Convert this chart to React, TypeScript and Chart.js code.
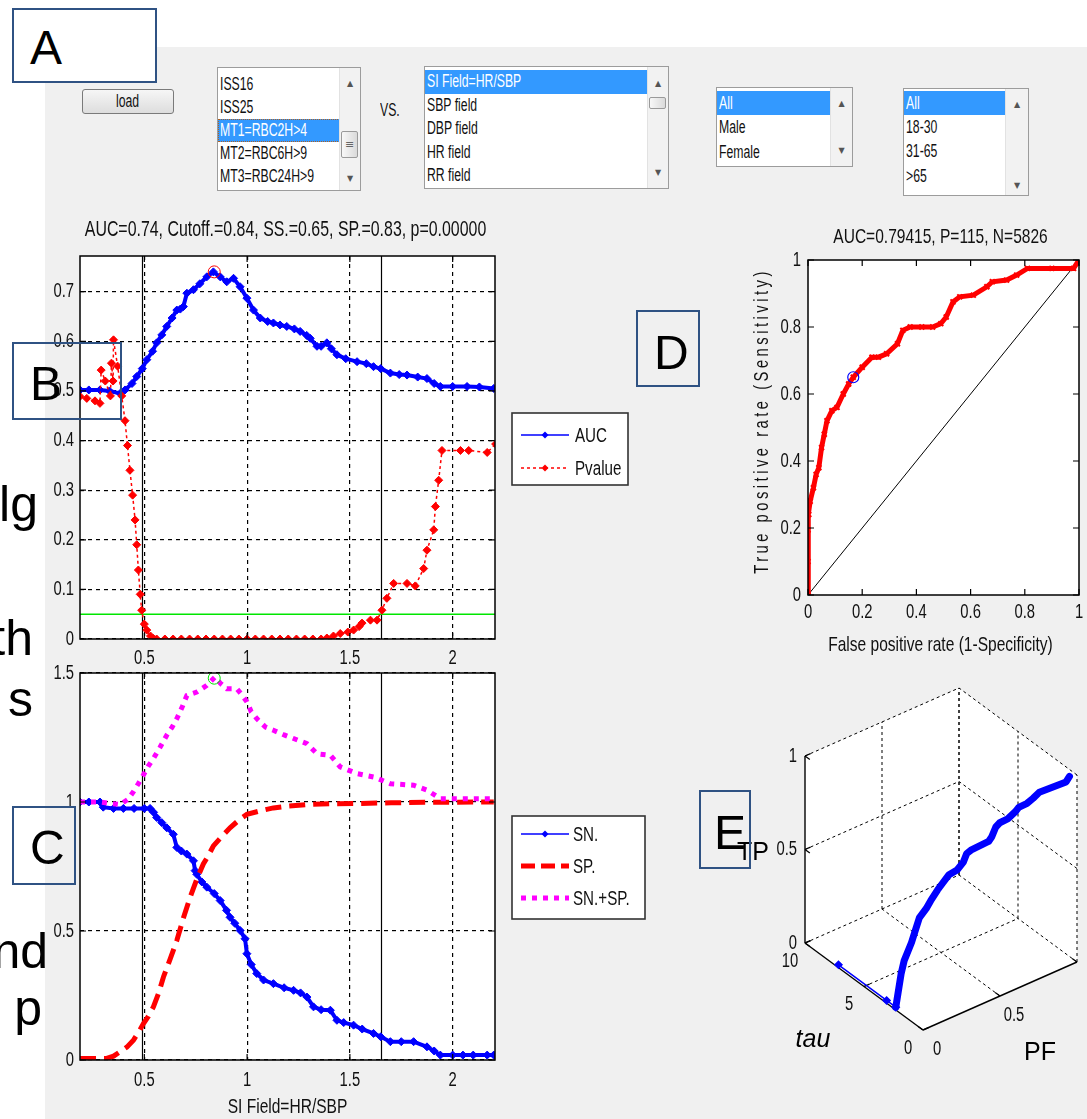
import React, { useEffect, useRef } from 'react';
import { Chart, registerables } from 'chart.js';

Chart.register(...registerables);

const SANS = '"Liberation Sans", Arial, Helvetica, sans-serif';
const SX = 0.74; // horizontal squeeze that imitates the condensed MATLAB/Helvetica look

/* ------------------------------ data ------------------------------ */
// panel A: selection lists
const OUTCOMES = ['ISS16', 'ISS25', 'MT1=RBC2H>4', 'MT2=RBC6H>9', 'MT3=RBC24H>9'];
const PREDICTORS = ['SI Field=HR/SBP', 'SBP field', 'DBP field', 'HR field', 'RR field'];
const SEXES = ['All', 'Male', 'Female'];
const AGES = ['All', '18-30', '31-65', '>65'];

// panel B: AUC and p-value versus cut-off
const B_TITLE = 'AUC=0.74, Cutoff.=0.84, SS.=0.65, SP.=0.83, p=0.00000';
const SI_TICKS = [0.5, 1, 1.5, 2];
const SI_RANGE = [0.187, 2.206];
const B_Y_TICKS = [0, 0.1, 0.2, 0.3, 0.4, 0.5, 0.6, 0.7];
const B_Y_RANGE = [0, 0.772];
const AUC_X = [0.187, 0.23, 0.284, 0.33, 0.382, 0.406, 0.44, 0.463, 0.49, 0.512, 0.54, 0.56, 0.585, 0.609, 0.635, 0.658, 0.675, 0.69, 0.707, 0.739, 0.77, 0.804, 0.836, 0.869, 0.901, 0.934, 0.966, 0.999, 1.031, 1.064, 1.1, 1.128, 1.16, 1.193, 1.23, 1.258, 1.29, 1.307, 1.34, 1.36, 1.388, 1.41, 1.437, 1.48, 1.535, 1.58, 1.615, 1.65, 1.697, 1.74, 1.778, 1.83, 1.875, 1.91, 1.94, 2.0, 2.07, 2.13, 2.2];
const AUC_Y = [0.502, 0.502, 0.502, 0.5, 0.495, 0.502, 0.515, 0.529, 0.545, 0.563, 0.58, 0.597, 0.613, 0.63, 0.647, 0.663, 0.665, 0.67, 0.697, 0.704, 0.716, 0.73, 0.74, 0.73, 0.72, 0.727, 0.71, 0.687, 0.663, 0.647, 0.64, 0.637, 0.633, 0.63, 0.625, 0.62, 0.612, 0.606, 0.59, 0.59, 0.597, 0.585, 0.573, 0.565, 0.559, 0.555, 0.549, 0.545, 0.536, 0.533, 0.532, 0.528, 0.525, 0.515, 0.509, 0.509, 0.509, 0.508, 0.505];
const PV_X = [0.187, 0.22, 0.26, 0.284, 0.29, 0.31, 0.335, 0.34, 0.348, 0.35, 0.37, 0.39, 0.406, 0.418, 0.43, 0.443, 0.455, 0.463, 0.471, 0.48, 0.487, 0.5, 0.512, 0.53, 0.544, 0.56, 0.6, 0.64, 0.68, 0.72, 0.76, 0.8, 0.84, 0.88, 0.92, 0.96, 1.0, 1.04, 1.08, 1.12, 1.16, 1.2, 1.24, 1.28, 1.32, 1.36, 1.388, 1.42, 1.453, 1.49, 1.518, 1.545, 1.559, 1.6, 1.632, 1.656, 1.68, 1.713, 1.778, 1.818, 1.859, 1.875, 1.908, 1.916, 1.932, 1.948, 2.038, 2.078, 2.168, 2.209];
const PV_Y = [0.489, 0.485, 0.48, 0.475, 0.542, 0.52, 0.49, 0.556, 0.52, 0.603, 0.55, 0.49, 0.44, 0.39, 0.34, 0.29, 0.24, 0.19, 0.139, 0.09, 0.058, 0.03, 0.018, 0.006, 0.001, 0, 0, 0, 0, 0, 0, 0, 0, 0, 0, 0, 0, 0, 0, 0, 0, 0, 0, 0, 0, 0, 0.002, 0.006, 0.011, 0.014, 0.018, 0.025, 0.032, 0.038, 0.038, 0.058, 0.082, 0.112, 0.112, 0.107, 0.142, 0.179, 0.22, 0.267, 0.32, 0.38, 0.38, 0.38, 0.376, 0.393];
const P_LEVEL = 0.05;
const CROSS_SI = [0.487, 1.65];
const BEST_SI = 0.84;
const BEST_AUC = 0.74;
const BEST_SUM = 1.48;

// panel C: sensitivity / specificity versus cut-off
const C_Y_TICKS = [0, 0.5, 1, 1.5];
const C_Y_RANGE = [0, 1.5];
const C_X_TITLE = 'SI Field=HR/SBP';
const SN_X = [0.187, 0.23, 0.284, 0.3, 0.35, 0.398, 0.45, 0.5, 0.528, 0.545, 0.56, 0.585, 0.609, 0.641, 0.658, 0.68, 0.707, 0.739, 0.747, 0.755, 0.78, 0.804, 0.84, 0.869, 0.9, 0.917, 0.94, 0.966, 0.99, 0.999, 1.02, 1.047, 1.08, 1.128, 1.18, 1.226, 1.26, 1.291, 1.323, 1.36, 1.405, 1.437, 1.47, 1.518, 1.56, 1.615, 1.65, 1.697, 1.75, 1.81, 1.875, 1.91, 1.94, 2.0, 2.05, 2.1, 2.168, 2.2];
const SN_Y = [1, 1, 1, 0.98, 0.975, 0.975, 0.975, 0.975, 0.975, 0.96, 0.94, 0.92, 0.9, 0.875, 0.824, 0.81, 0.798, 0.772, 0.734, 0.72, 0.69, 0.67, 0.645, 0.618, 0.58, 0.553, 0.53, 0.502, 0.47, 0.412, 0.37, 0.335, 0.31, 0.296, 0.28, 0.27, 0.26, 0.244, 0.206, 0.195, 0.193, 0.154, 0.145, 0.135, 0.12, 0.103, 0.09, 0.071, 0.071, 0.071, 0.051, 0.035, 0.019, 0.019, 0.019, 0.019, 0.019, 0.019];
const SP_X = [0.187, 0.25, 0.317, 0.35, 0.382, 0.415, 0.447, 0.47, 0.495, 0.52, 0.544, 0.57, 0.593, 0.625, 0.658, 0.69, 0.723, 0.755, 0.787, 0.81, 0.836, 0.87, 0.917, 0.96, 0.999, 1.06, 1.128, 1.2, 1.291, 1.4, 1.535, 1.7, 1.9, 2.2];
const SP_Y = [0.006, 0.006, 0.006, 0.015, 0.032, 0.05, 0.077, 0.105, 0.14, 0.17, 0.206, 0.26, 0.322, 0.39, 0.463, 0.55, 0.631, 0.7, 0.76, 0.79, 0.83, 0.86, 0.9, 0.93, 0.952, 0.965, 0.977, 0.984, 0.99, 0.993, 0.994, 0.997, 0.999, 1.0];
const SUM_X = [0.187, 0.284, 0.382, 0.42, 0.447, 0.47, 0.495, 0.52, 0.544, 0.575, 0.609, 0.635, 0.658, 0.685, 0.707, 0.755, 0.804, 0.844, 0.87, 0.901, 0.95, 0.975, 0.999, 1.02, 1.047, 1.09, 1.128, 1.18, 1.226, 1.291, 1.34, 1.405, 1.453, 1.535, 1.615, 1.697, 1.81, 1.875, 1.94, 2.05, 2.2];
const SUM_Y = [1, 1, 0.99, 1.01, 1.04, 1.07, 1.104, 1.14, 1.168, 1.21, 1.259, 1.29, 1.323, 1.37, 1.413, 1.426, 1.452, 1.484, 1.46, 1.439, 1.439, 1.415, 1.388, 1.35, 1.323, 1.29, 1.278, 1.26, 1.246, 1.226, 1.187, 1.181, 1.136, 1.11, 1.097, 1.071, 1.065, 1.046, 1.013, 1.013, 1.013];

// panel D: ROC curve
const D_TITLE = 'AUC=0.79415, P=115, N=5826';
const D_X_TITLE = 'False positive rate (1-Specificity)';
const D_Y_TITLE = 'True positive rate (Sensitivity)';
const RATE_TICKS = [0, 0.2, 0.4, 0.6, 0.8, 1];
const ROC_FPR = [0, 0, 0, 0.003, 0.008, 0.02, 0.03, 0.04, 0.05, 0.06, 0.07, 0.088, 0.107, 0.13, 0.15, 0.167, 0.2, 0.236, 0.26, 0.29, 0.33, 0.35, 0.377, 0.42, 0.46, 0.49, 0.51, 0.535, 0.56, 0.61, 0.66, 0.68, 0.733, 0.77, 0.81, 0.9, 0.98, 1.0];
const ROC_TPR = [0, 0.1, 0.194, 0.24, 0.28, 0.32, 0.36, 0.38, 0.44, 0.48, 0.52, 0.55, 0.56, 0.6, 0.63, 0.65, 0.68, 0.71, 0.71, 0.72, 0.75, 0.79, 0.8, 0.8, 0.8, 0.81, 0.83, 0.875, 0.89, 0.895, 0.92, 0.935, 0.94, 0.955, 0.975, 0.975, 0.975, 1.0];
const CHANCE = [0, 1];
const OPT_FPR = 0.167;
const OPT_TPR = 0.65;

// panel E: 3-D ROC (PF, tau, TP)
const E_PF_TICKS = [0, 0.5, 1];
const E_TAU_TICKS = [0, 5, 10];
const E_TP_TICKS = [0, 0.5, 1];
const E_PF_MAX = 1;
const E_TAU_MAX = 10;
const E_TP_MAX = 1;
const E_THIN_PF = [0, 0, 0];
const E_THIN_TAU = [7.3, 3.1, 2.3];
const E_THIN_TP = [0, 0, 0];
const E_PF = [0, 0.005, 0.01, 0.04, 0.05, 0.07, 0.107, 0.13, 0.167, 0.2, 0.236, 0.29, 0.33, 0.35, 0.377, 0.49, 0.51, 0.535, 0.56, 0.61, 0.66, 0.68, 0.733, 0.77, 0.81, 0.98, 1.0];
const E_TAU = [2.3, 1.9, 1.7, 1.45, 1.3, 1.15, 1.05, 0.95, 0.84, 0.8, 0.77, 0.74, 0.71, 0.69, 0.67, 0.6, 0.58, 0.56, 0.54, 0.5, 0.46, 0.45, 0.41, 0.38, 0.35, 0.24, 0.2];
const E_TP = [0, 0.2, 0.28, 0.38, 0.44, 0.52, 0.56, 0.6, 0.65, 0.68, 0.71, 0.72, 0.75, 0.79, 0.8, 0.81, 0.83, 0.875, 0.89, 0.895, 0.92, 0.935, 0.94, 0.955, 0.975, 0.975, 1.0];

/* ------------------------------ layout ------------------------------ */
const E_ORIGIN = [223, 350];
const E_PF_VEC = [154, -68];
const E_TAU_VEC = [-11.8, -8.7];
const E_TP_VEC = [0, -187];

const BLUE = '#0000ff';
const RED = '#ff0000';
const MAGENTA = '#ff00ff';
const GREEN = '#00e600';
const TICK_FONT = 20;

const pts = (xs: number[], ys: number[]) => xs.map((x, i) => ({ x, y: ys[i] }));

function axis(min: number, max: number, ticks: number[], w: number | null, h: number | null, grid: boolean) {
  return {
    type: 'linear',
    min,
    max,
    afterBuildTicks: (s: any) => {
      s.ticks = ticks.map((v) => ({ value: v }));
    },
    afterFit: (s: any) => {
      if (w != null) s.width = w;
      if (h != null) s.height = h;
      s.paddingLeft = 0;
      s.paddingRight = 0;
      s.paddingTop = 0;
      s.paddingBottom = 0;
    },
    ticks: { display: false, autoSkip: false, maxRotation: 0 },
    grid: grid
      ? { display: true, color: '#000', lineWidth: 1.2, drawTicks: false }
      : { display: false, drawTicks: false },
    border: { display: false, dash: [4, 4] },
  };
}

function text(ctx: any, s: string, x: number, y: number, size: number, align = 'center', color = '#111', sx = SX, style = '') {
  ctx.save();
  ctx.translate(x, y);
  ctx.scale(sx, 1);
  ctx.font = `${style}${size}px ${SANS}`;
  ctx.fillStyle = color;
  ctx.textAlign = align;
  ctx.textBaseline = 'middle';
  ctx.fillText(s, 0, 0);
  ctx.restore();
}

function frame(opts: any) {
  return {
    id: 'matlabFrame',
    beforeDraw(chart: any) {
      const { ctx, chartArea: a } = chart;
      ctx.save();
      ctx.fillStyle = '#fff';
      ctx.fillRect(a.left, a.top, a.right - a.left, a.bottom - a.top);
      ctx.restore();
    },
    beforeDatasetsDraw(chart: any) {
      const { ctx, chartArea: a, scales } = chart;
      if (opts.vlines) {
        ctx.save();
        ctx.strokeStyle = '#000';
        ctx.lineWidth = 1.2;
        for (const v of opts.vlines) {
          const px = Math.round(scales.x.getPixelForValue(v)) + 0.5;
          ctx.beginPath();
          ctx.moveTo(px, a.top);
          ctx.lineTo(px, a.bottom);
          ctx.stroke();
        }
        ctx.restore();
      }
    },
    afterDraw(chart: any) {
      const { ctx, chartArea: a, scales } = chart;
      ctx.save();
      ctx.strokeStyle = '#000';
      ctx.setLineDash([]);
      ctx.lineWidth = 1.5;
      ctx.strokeRect(a.left, a.top, a.right - a.left, a.bottom - a.top);
      const t = 6;
      ctx.lineWidth = 1.2;
      ctx.beginPath();
      for (const tk of scales.x.ticks) {
        const px = scales.x.getPixelForValue(tk.value);
        ctx.moveTo(px, a.bottom);
        ctx.lineTo(px, a.bottom - t);
        ctx.moveTo(px, a.top);
        ctx.lineTo(px, a.top + t);
      }
      for (const tk of scales.y.ticks) {
        const py = scales.y.getPixelForValue(tk.value);
        ctx.moveTo(a.left, py);
        ctx.lineTo(a.left + t, py);
        ctx.moveTo(a.right, py);
        ctx.lineTo(a.right - t, py);
      }
      ctx.stroke();
      ctx.restore();
      for (const tk of scales.x.ticks) {
        text(ctx, String(tk.value), scales.x.getPixelForValue(tk.value), a.bottom + opts.xLabelDy, TICK_FONT, 'center');
      }
      for (const tk of scales.y.ticks) {
        text(ctx, String(tk.value), a.left - opts.yLabelDx, scales.y.getPixelForValue(tk.value), TICK_FONT, 'right');
      }
      if (opts.after) opts.after(chart, ctx, a);
    },
  };
}

function diamond(ctx: any, x: number, y: number, r: number, color: string) {
  ctx.save();
  ctx.fillStyle = color;
  ctx.beginPath();
  ctx.moveTo(x, y - r);
  ctx.lineTo(x + r, y);
  ctx.lineTo(x, y + r);
  ctx.lineTo(x - r, y);
  ctx.closePath();
  ctx.fill();
  ctx.restore();
}

function drawLegend(ctx: any, x: number, y: number, w: number, h: number, first: number, rowH: number, textX: number, items: any[]) {
  ctx.save();
  ctx.fillStyle = '#fff';
  ctx.fillRect(x, y, w, h);
  ctx.strokeStyle = '#333';
  ctx.lineWidth = 1.6;
  ctx.setLineDash([]);
  ctx.strokeRect(x, y, w, h);
  items.forEach((it, i) => {
    const cy = y + first + i * rowH;
    ctx.save();
    ctx.strokeStyle = it.color;
    ctx.lineWidth = it.width;
    ctx.setLineDash(it.dash || []);
    ctx.beginPath();
    ctx.moveTo(x + 9, cy);
    ctx.lineTo(x + 57, cy);
    ctx.stroke();
    ctx.restore();
    if (it.marker) diamond(ctx, x + 33, cy, 3.5, it.color);
    text(ctx, it.label, x + textX, cy + 1, 20.5, 'left', '#111');
  });
  ctx.restore();
}

const baseOptions = (padding: any, scales: any) => ({
  responsive: false,
  animation: false,
  devicePixelRatio: 1,
  events: [],
  layout: { padding },
  plugins: { legend: { display: false }, tooltip: { enabled: false }, title: { display: false } },
  scales,
});

function makeB() {
  return {
    type: 'scatter',
    data: {
      datasets: [
        { data: [{ x: BEST_SI, y: BEST_AUC }], showLine: false, pointStyle: 'circle', pointRadius: 6, pointBorderColor: RED, pointBackgroundColor: 'rgba(0,0,0,0)', pointBorderWidth: 1 },
        { data: pts(PV_X, PV_Y), showLine: true, borderColor: RED, borderWidth: 1.5, borderDash: [3, 3], pointStyle: 'rectRot', pointRadius: 4, pointBackgroundColor: RED, pointBorderColor: RED, pointBorderWidth: 1 },
        { data: pts(AUC_X, AUC_Y), showLine: true, borderColor: BLUE, borderWidth: 4, pointStyle: 'rectRot', pointRadius: 4, pointBackgroundColor: BLUE, pointBorderColor: BLUE, pointBorderWidth: 1 },
        { data: [{ x: SI_RANGE[0], y: P_LEVEL }, { x: SI_RANGE[1], y: P_LEVEL }], showLine: true, borderColor: GREEN, borderWidth: 1.5, pointRadius: 0 },
      ],
    },
    options: baseOptions({ left: 0, top: 46, right: 155, bottom: 0 }, {
      x: axis(SI_RANGE[0], SI_RANGE[1], SI_TICKS, null, 36, true),
      y: axis(B_Y_RANGE[0], B_Y_RANGE[1], B_Y_TICKS, 50, null, true),
    }),
    plugins: [frame({
      vlines: CROSS_SI,
      xLabelDy: 19,
      yLabelDx: 6,
      after: (chart: any, ctx: any, a: any) => {
        text(ctx, B_TITLE, (a.left + a.right) / 2 - 2, 20, 21.5);
        drawLegend(ctx, 482, 203, 116, 72, 22, 33, 63, [
          { label: 'AUC', color: BLUE, width: 1.5, marker: true },
          { label: 'Pvalue', color: RED, width: 1.5, dash: [3, 3], marker: true },
        ]);
      },
    })],
  };
}

function makeC() {
  return {
    type: 'scatter',
    data: {
      datasets: [
        { data: [{ x: BEST_SI, y: BEST_SUM }], showLine: false, pointStyle: 'circle', pointRadius: 6, pointBorderColor: GREEN, pointBackgroundColor: 'rgba(0,0,0,0)', pointBorderWidth: 1 },
        { data: pts(SUM_X, SUM_Y), showLine: true, borderColor: MAGENTA, borderWidth: 5, borderDash: [5, 6], pointRadius: 0 },
        { data: pts(SP_X, SP_Y), showLine: true, borderColor: RED, borderWidth: 5, borderDash: [16, 8], pointRadius: 0 },
        { data: pts(SN_X, SN_Y), showLine: true, borderColor: BLUE, borderWidth: 4, pointStyle: 'rectRot', pointRadius: 4, pointBackgroundColor: BLUE, pointBorderColor: BLUE, pointBorderWidth: 1 },
      ],
    },
    options: baseOptions({ left: 0, top: 18, right: 155, bottom: 0 }, {
      x: axis(SI_RANGE[0], SI_RANGE[1], SI_TICKS, null, 59, true),
      y: axis(C_Y_RANGE[0], C_Y_RANGE[1], C_Y_TICKS, 50, null, true),
    }),
    plugins: [frame({
      vlines: CROSS_SI,
      xLabelDy: 20,
      yLabelDx: 6,
      after: (chart: any, ctx: any, a: any) => {
        text(ctx, C_X_TITLE, (a.left + a.right) / 2, 452, 21);
        drawLegend(ctx, 482, 161, 133, 103, 18, 32, 61, [
          { label: 'SN.', color: BLUE, width: 1.5, marker: true },
          { label: 'SP.', color: RED, width: 5, dash: [14, 6] },
          { label: 'SN.+SP.', color: MAGENTA, width: 5, dash: [5, 6] },
        ]);
      },
    })],
  };
}

function makeD() {
  return {
    type: 'scatter',
    data: {
      datasets: [
        { data: [{ x: OPT_FPR, y: OPT_TPR }], showLine: false, pointStyle: 'circle', pointRadius: 5.5, pointBorderColor: BLUE, pointBackgroundColor: 'rgba(0,0,0,0)', pointBorderWidth: 1.2 },
        { data: pts(ROC_FPR, ROC_TPR), showLine: true, borderColor: RED, borderWidth: 5, pointStyle: 'crossRot', pointRadius: 3.5, pointBorderColor: RED, pointBorderWidth: 2 },
        { data: pts(CHANCE, CHANCE), showLine: true, borderColor: '#000', borderWidth: 1, pointRadius: 0 },
      ],
    },
    options: baseOptions({ left: 0, top: 45, right: 8, bottom: 0 }, {
      x: axis(0, 1, RATE_TICKS, null, 65, false),
      y: axis(0, 1, RATE_TICKS, 68, null, false),
    }),
    plugins: [frame({
      xLabelDy: 17,
      yLabelDx: 7,
      after: (chart: any, ctx: any, a: any) => {
        text(ctx, D_TITLE, (a.left + a.right) / 2 - 3, 22, 21);
        text(ctx, D_X_TITLE, (a.left + a.right) / 2 - 3, 430, 21);
        ctx.save();
        ctx.translate(22, 206);
        ctx.rotate(-Math.PI / 2);
        ctx.scale(SX, 1);
        (ctx as any).letterSpacing = '4.7px';
        ctx.font = `20px ${SANS}`;
        ctx.fillStyle = '#111';
        ctx.textAlign = 'center';
        ctx.textBaseline = 'middle';
        ctx.fillText(D_Y_TITLE, 0, 0);
        ctx.restore();
      },
    })],
  };
}

function eProj(pf: number, tau: number, tp: number) {
  return {
    x: E_ORIGIN[0] + pf * E_PF_VEC[0] + tau * E_TAU_VEC[0] + tp * E_TP_VEC[0],
    y: E_ORIGIN[1] + pf * E_PF_VEC[1] + tau * E_TAU_VEC[1] + tp * E_TP_VEC[1],
  };
}

function makeE() {
  const box = {
    id: 'box3d',
    beforeDatasetsDraw(chart: any) {
      const ctx = chart.ctx;
      const P = eProj;
      const seg = (a: any, b: any) => {
        ctx.beginPath();
        ctx.moveTo(a.x, a.y);
        ctx.lineTo(b.x, b.y);
        ctx.stroke();
      };
      ctx.save();
      const hex = [P(0, E_TAU_MAX, 0), P(0, 0, 0), P(E_PF_MAX, 0, 0), P(E_PF_MAX, 0, E_TP_MAX), P(E_PF_MAX, E_TAU_MAX, E_TP_MAX), P(0, E_TAU_MAX, E_TP_MAX)];
      ctx.fillStyle = '#fff';
      ctx.beginPath();
      hex.forEach((p, i) => (i ? ctx.lineTo(p.x, p.y) : ctx.moveTo(p.x, p.y)));
      ctx.closePath();
      ctx.fill();
      ctx.strokeStyle = '#000';
      ctx.lineWidth = 1;
      ctx.setLineDash([3, 3]);
      for (const pf of E_PF_TICKS) {
        if (pf > 0) {
          seg(P(pf, 0, 0), P(pf, E_TAU_MAX, 0));
          seg(P(pf, E_TAU_MAX, 0), P(pf, E_TAU_MAX, E_TP_MAX));
        }
      }
      for (const tau of E_TAU_TICKS) {
        if (tau > 0) seg(P(0, tau, 0), P(E_PF_MAX, tau, 0));
        seg(P(E_PF_MAX, tau, 0), P(E_PF_MAX, tau, E_TP_MAX));
      }
      for (const tp of E_TP_TICKS) {
        if (tp > 0) {
          seg(P(0, E_TAU_MAX, tp), P(E_PF_MAX, E_TAU_MAX, tp));
          seg(P(E_PF_MAX, 0, tp), P(E_PF_MAX, E_TAU_MAX, tp));
        }
      }
      ctx.setLineDash([]);
      ctx.lineWidth = 1.4;
      seg(P(0, E_TAU_MAX, 0), P(0, E_TAU_MAX, E_TP_MAX));
      seg(P(0, 0, 0), P(0, E_TAU_MAX, 0));
      seg(P(0, 0, 0), P(E_PF_MAX, 0, 0));
      const pl = Math.hypot(E_PF_VEC[0], E_PF_VEC[1]);
      const tl = Math.hypot(E_TAU_VEC[0], E_TAU_VEC[1]);
      const pfU = { x: E_PF_VEC[0] / pl, y: E_PF_VEC[1] / pl };
      const tauU = { x: E_TAU_VEC[0] / tl, y: E_TAU_VEC[1] / tl };
      ctx.lineWidth = 1.2;
      for (const tp of E_TP_TICKS) {
        const p = P(0, E_TAU_MAX, tp);
        seg(p, { x: p.x + pfU.x * 6, y: p.y + pfU.y * 6 });
        seg(p, { x: p.x - tauU.x * 6, y: p.y - tauU.y * 6 });
      }
      for (const tau of E_TAU_TICKS) {
        const p = P(0, tau, 0);
        seg(p, { x: p.x + pfU.x * 6, y: p.y + pfU.y * 6 });
      }
      for (const pf of E_PF_TICKS) {
        const p = P(pf, 0, 0);
        seg(p, { x: p.x + tauU.x * 6, y: p.y + tauU.y * 6 });
      }
      for (const tp of E_TP_TICKS) {
        const p = P(0, E_TAU_MAX, tp);
        text(ctx, String(tp), p.x - 8, p.y, TICK_FONT, 'right');
      }
      for (const tau of E_TAU_TICKS) {
        const p = P(0, tau, 0);
        text(ctx, String(tau), p.x - 15, p.y + 18, TICK_FONT, 'center');
      }
      for (const pf of E_PF_TICKS) {
        const p = P(pf, 0, 0);
        text(ctx, String(pf), p.x + 14, p.y + 19, TICK_FONT, 'center');
      }
      text(ctx, 'TP', 53, 173, 25, 'center', '#000', 1);
      text(ctx, 'tau', 113, 360, 25, 'center', '#000', 1, 'italic ');
      text(ctx, 'PF', 340, 373, 25, 'center', '#000', 1);
      ctx.restore();
    },
  };
  const proj = (pf: number[], tau: number[], tp: number[]) => pf.map((v, i) => eProj(v, tau[i], tp[i]));
  return {
    type: 'scatter',
    data: {
      datasets: [
        { data: proj(E_PF, E_TAU, E_TP), showLine: true, borderColor: BLUE, borderWidth: 7, borderCapStyle: 'round', borderJoinStyle: 'round', pointRadius: 0 },
        { data: proj(E_THIN_PF, E_THIN_TAU, E_THIN_TP), showLine: true, borderColor: BLUE, borderWidth: 1.5, pointStyle: 'rectRot', pointRadius: 3.5, pointBackgroundColor: BLUE, pointBorderColor: BLUE },
      ],
    },
    options: baseOptions({ left: 0, top: 0, right: 0, bottom: 0 }, {
      x: { type: 'linear', display: false, min: 0, max: 387 },
      y: { type: 'linear', display: false, min: 0, max: 439, reverse: true },
    }),
    plugins: [box],
  };
}

function ChartCanvas({ x, y, w, h, make }: any) {
  const ref = useRef<HTMLCanvasElement>(null);
  useEffect(() => {
    const chart = new Chart(ref.current as any, make() as any);
    return () => chart.destroy();
  }, []);
  return <canvas ref={ref} width={w} height={h} style={{ position: 'absolute', left: x, top: y, width: w, height: h }} />;
}

const squeeze: any = { display: 'inline-block', transform: 'scaleX(0.7)', transformOrigin: '0 50%', whiteSpace: 'nowrap' };

function ListBox({ x, y, w, h, items, sel, rowTop, rowH, sbW, up, down, thumb, focus }: any) {
  return (
    <div style={{ position: 'absolute', left: x, top: y, width: w, height: h, background: '#fff', border: '1px solid #9c9c9c', boxSizing: 'border-box', overflow: 'hidden' }}>
      {items.map((t: string, i: number) => (
        <div key={i} style={{ position: 'absolute', left: 0, top: rowTop + i * rowH, width: w - sbW - 2, height: rowH, lineHeight: rowH + 'px', paddingLeft: 2, boxSizing: 'border-box', background: i === sel ? '#3399ff' : 'transparent', color: i === sel ? '#fff' : '#111', fontFamily: SANS, fontSize: 17.5, whiteSpace: 'nowrap', outline: i === sel && focus ? '1px dotted #b06020' : 'none', outlineOffset: -1 }}>
          <span style={squeeze}>{t}</span>
        </div>
      ))}
      <div style={{ position: 'absolute', right: 0, top: 0, width: sbW, height: '100%', background: '#f2f2f2', borderLeft: '1px solid #e2e2e2' }}>
        <div style={{ position: 'absolute', left: 0, width: '100%', top: up - 6, textAlign: 'center', fontSize: 8, lineHeight: '12px', color: '#555', fontFamily: '"DejaVu Sans", sans-serif' }}>▲</div>
        <div style={{ position: 'absolute', left: 0, width: '100%', top: down - 6, textAlign: 'center', fontSize: 8, lineHeight: '12px', color: '#555', fontFamily: '"DejaVu Sans", sans-serif' }}>▼</div>
        {thumb ? (
          <div style={{ position: 'absolute', left: 1, right: 2, top: thumb[0], height: thumb[1], border: '1px solid #9a9a9a', borderRadius: 2, background: 'linear-gradient(to right, #f8f8f8, #dadada)', boxSizing: 'border-box', textAlign: 'center', fontSize: 11, lineHeight: thumb[1] - 2 + 'px', color: '#666', fontFamily: '"DejaVu Sans", sans-serif' }}>{thumb[2] ? '≡' : ''}</div>
        ) : null}
      </div>
    </div>
  );
}

function LabelBox({ x, y, w, h, ch, fill, tx, ty }: any) {
  return (
    <div style={{ position: 'absolute', left: x, top: y, width: w, height: h, border: '2px solid #2f5283', boxSizing: 'border-box', background: fill || 'transparent' }}>
      <span style={{ position: 'absolute', left: tx, top: ty, fontFamily: SANS, fontSize: 48, lineHeight: '48px', color: '#000' }}>{ch}</span>
    </div>
  );
}

function SideText({ s, right, baseline }: any) {
  return (
    <div style={{ position: 'absolute', right: 1087 - right, top: baseline - 42, fontFamily: SANS, fontSize: 50, lineHeight: '50px', color: '#000', whiteSpace: 'nowrap' }}>{s}</div>
  );
}

export default function App() {
  return (
    <div style={{ position: 'absolute', left: 0, top: 0, width: 1087, height: 1119, overflow: 'hidden', background: '#fff', fontFamily: SANS }}>
      <div style={{ position: 'absolute', left: 45, top: 47, width: 1042, height: 1072, background: '#f0f0f0' }} />

      <div style={{ position: 'absolute', left: 82, top: 89, width: 92, height: 25, border: '1px solid #7a7a7a', borderRadius: 3, boxSizing: 'border-box', background: 'linear-gradient(#f6f6f6, #dddddd)', lineHeight: '23px', fontSize: 17.5, color: '#111' }}>
        <span style={{ ...squeeze, position: 'absolute', left: 33 }}>load</span>
      </div>
      <ListBox x={217} y={67} w={144} h={124} items={OUTCOMES} sel={2} rowTop={4.5} rowH={23} sbW={20} up={16} down={111} thumb={[63, 27, true]} focus />
      <div style={{ position: 'absolute', left: 380, top: 100, fontSize: 17.5, lineHeight: '20px', color: '#111' }}><span style={squeeze}>VS.</span></div>
      <ListBox x={424} y={66} w={245} h={123} items={PREDICTORS} sel={0} rowTop={3.25} rowH={23.5} sbW={20} up={17} down={106} thumb={[30, 12, false]} />
      <ListBox x={716} y={87} w={137} h={80} items={SEXES} sel={0} rowTop={2.75} rowH={24.5} sbW={21} up={16} down={63} />
      <ListBox x={903} y={88} w={126} h={108} items={AGES} sel={0} rowTop={1.85} rowH={24.3} sbW={22} up={16} down={97} />

      <ChartCanvas x={30} y={210} w={620} h={465} make={makeB} />
      <ChartCanvas x={30} y={655} w={620} h={464} make={makeC} />
      <ChartCanvas x={740} y={215} w={347} h={445} make={makeD} />
      <ChartCanvas x={700} y={680} w={387} h={439} make={makeE} />

      <LabelBox x={12} y={8} w={145} h={75} ch="A" fill="#fff" tx={16} ty={14} />
      <LabelBox x={12} y={342} w={110} h={78} ch="B" tx={16} ty={16} />
      <LabelBox x={12} y={806} w={64} h={79} ch="C" tx={16} ty={16} />
      <LabelBox x={636} y={310} w={64} h={77} ch="D" tx={16} ty={17} />
      <LabelBox x={699} y={790} w={52} h={79} ch="E" tx={13} ty={17} />

      <SideText s="lg" right={38} baseline={521} />
      <SideText s="th" right={33} baseline={655} />
      <SideText s="s" right={33} baseline={716} />
      <SideText s="nd" right={48} baseline={968} />
      <SideText s="p" right={42} baseline={1025} />
    </div>
  );
}
